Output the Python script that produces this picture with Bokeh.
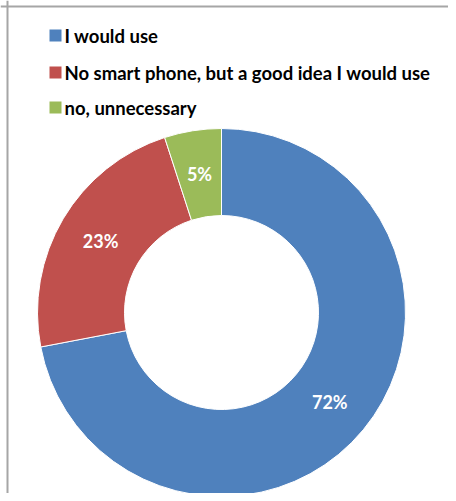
import math
from bokeh.plotting import figure
from bokeh.models import Range1d, ColumnDataSource, Span
from bokeh.core.properties import value
from bokeh.embed import file_html
from bokeh.resources import INLINE

categories = ["I would use", "No smart phone, but a good idea I would use", "no, unnecessary"]
shares = [72, 23, 5]
colors = ["#4F81BD", "#C0504D", "#9BBB59"]

W, H = 448, 493
# data units = reference pixels (x right, y measured upward from page bottom 501)
p = figure(width=W, height=H, output_backend="svg", toolbar_location=None,
           x_range=Range1d(0, 448), y_range=Range1d(8, 501), min_border=0,
           outline_line_color=None)
p.axis.visible = False
p.grid.visible = False

# chart frame (top & left visible, the rest is cropped in the reference)
p.add_layout(Span(location=501 - 6, dimension="width", line_color="#A6A6A6", line_width=2))
p.add_layout(Span(location=7, dimension="height", line_color="#A6A6A6", line_width=2))

cx, cy = 221, 501 - 312
r_out, r_in = 184, 97
total = sum(shares)
starts, ends, lx, ly, labels = [], [], [], [], []
cum = 0.0
for s in shares:
    a0 = math.pi / 2 - 2 * math.pi * (cum + s) / total
    a1 = math.pi / 2 - 2 * math.pi * cum / total
    starts.append(a0)
    ends.append(a1)
    mid = (a0 + a1) / 2
    rm = (r_in + r_out) / 2
    lx.append(cx + rm * math.cos(mid))
    ly.append(cy + rm * math.sin(mid))
    labels.append(f"{s}%")
    cum += s

src = ColumnDataSource(dict(start=starts, end=ends, color=colors, cat=categories,
                            lx=lx, ly=ly, label=labels))
p.annular_wedge(x=cx, y=cy, inner_radius=r_in, outer_radius=r_out,
                start_angle="start", end_angle="end", fill_color="color",
                line_color="white", line_width=1, source=src)
p.text(x="lx", y="ly", text="label", source=src, text_color="white",
       text_font=value("Lato"), text_font_style="bold", text_font_size="18px",
       text_align="center", text_baseline="middle")

# legend
row_y = [501 - 35, 501 - 72, 501 - 107]
leg = ColumnDataSource(dict(y=row_y, color=colors, cat=categories))
p.rect(x=55, y="y", width=12, height=12, fill_color="color", line_color=None, source=leg)
p.text(x=64, y="y", text="cat", source=leg, text_color="black",
       text_font=value("Lato"), text_font_style="bold", text_font_size="18.5px",
       text_align="left", text_baseline="middle")

open("out.html", "w").write(file_html(p, INLINE))
